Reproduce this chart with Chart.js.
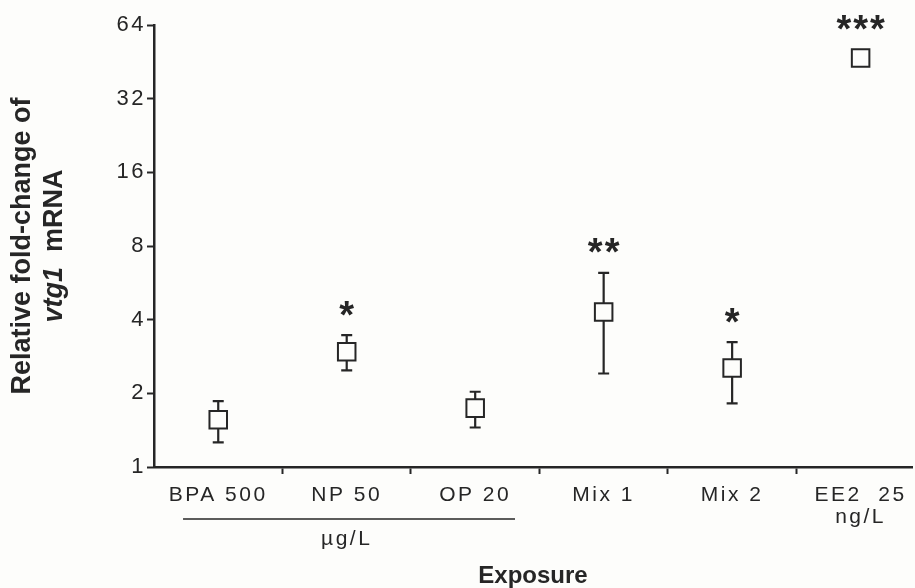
<!DOCTYPE html>
<html>
<head>
<meta charset="utf-8">
<script src="https://cdn.jsdelivr.net/npm/chart.js@4.4.1/dist/chart.umd.min.js"></script>
<style>
  html, body { margin: 0; padding: 0; background: #fdfdfb; }
  #wrap { width: 915px; height: 588px; position: relative; }
</style>
</head>
<body>
<div id="wrap"><canvas id="c"></canvas></div>
<script>
// ---- data ----
const categories = ['BPA 500', 'NP 50', 'OP 20', 'Mix 1', 'Mix 2', 'EE2  25'];
const subLabels  = ['', 'µg/L', '', '', '', 'ng/L'];
const foldChange = [1.56, 2.96, 1.74, 4.30, 2.54, 46.9];
const errHigh    = [1.86, 3.46, 2.03, 6.21, 3.24, null];
const errLow     = [1.26, 2.48, 1.45, 2.41, 1.82, null];
const stars      = ['', '*', '', '**', '*', '***'];
const yTicks     = [1, 2, 4, 8, 16, 32, 64];
const groupBracket = { from: 0.726, to: 3.31 }; // "µg/L" group underline, in category units

const FONT = '"Liberation Sans", Arial, Helvetica, sans-serif';
const INK = '#262626';
const BG = '#fdfdfb';

const xLabels = categories.map((c, i) => {
  if (i === 1) return [c, '', subLabels[i]];
  if (subLabels[i]) return [c, subLabels[i]];
  return c;
});

const points = categories.map((c, i) => ({ x: i + 1, y: foldChange[i] }));

const errorBars = {
  id: 'errorBars',
  beforeDatasetsDraw(chart) {
    const ctx = chart.ctx, xs = chart.scales.x, ys = chart.scales.y;
    ctx.save();
    ctx.strokeStyle = INK;
    ctx.lineWidth = 2.2;
    const cap = 5.5;
    for (let i = 0; i < categories.length; i++) {
      if (errHigh[i] == null || errLow[i] == null) continue;
      const x = xs.getPixelForValue(i + 1);
      const yh = ys.getPixelForValue(errHigh[i]);
      const yl = ys.getPixelForValue(errLow[i]);
      ctx.beginPath();
      ctx.moveTo(x, yh); ctx.lineTo(x, yl);
      ctx.moveTo(x - cap, yh); ctx.lineTo(x + cap, yh);
      ctx.moveTo(x - cap, yl); ctx.lineTo(x + cap, yl);
      ctx.stroke();
    }
    ctx.restore();
  }
};

const annotations = {
  id: 'annotations',
  beforeDraw(chart) {
    chart.ctx.letterSpacing = '2.5px';
  },
  afterDatasetsDraw(chart) {
    const ctx = chart.ctx, xs = chart.scales.x, ys = chart.scales.y;
    const meta = chart.getDatasetMeta(0);
    ctx.save();
    ctx.letterSpacing = '2px';
    // significance stars
    ctx.fillStyle = INK;
    ctx.font = 'bold 38px ' + FONT;
    ctx.textAlign = 'center';
    ctx.textBaseline = 'alphabetic';
    for (let i = 0; i < categories.length; i++) {
      if (!stars[i]) continue;
      const x = xs.getPixelForValue(i + 1);
      let top;
      if (errHigh[i] != null) top = ys.getPixelForValue(errHigh[i]);
      else top = ys.getPixelForValue(foldChange[i]) - meta.data[i].options.radius * Math.SQRT1_2;
      const target = top - 27;
      const m = ctx.measureText(stars[i]);
      const y = target + (m.actualBoundingBoxAscent - m.actualBoundingBoxDescent) / 2;
      ctx.fillText(stars[i], x + 1, y);
    }
    // group underline for µg/L
    ctx.strokeStyle = INK;
    ctx.lineWidth = 1.6;
    const yLine = chart.chartArea.bottom + 52;
    ctx.beginPath();
    ctx.moveTo(xs.getPixelForValue(groupBracket.from), yLine);
    ctx.lineTo(xs.getPixelForValue(groupBracket.to), yLine);
    ctx.stroke();

    // x-axis title
    ctx.letterSpacing = '0px';
    ctx.font = 'bold 24px ' + FONT;
    ctx.textAlign = 'center';
    ctx.textBaseline = 'alphabetic';
    ctx.fillText('Exposure', (chart.chartArea.left + chart.chartArea.right) / 2, chart.chartArea.bottom + 116);

    // y-axis title (two lines, "vtg1" italic)
    const cy = (chart.chartArea.top + chart.chartArea.bottom) / 2;
    ctx.translate(0, cy);
    ctx.rotate(-Math.PI / 2);
    ctx.textBaseline = 'middle';
    ctx.textAlign = 'center';
    ctx.font = 'bold 27px ' + FONT;
    ctx.fillText('Relative fold-change of', 0, 23);
    const part1 = 'vtg1', part2 = '  mRNA';
    ctx.font = 'italic bold 27px ' + FONT;
    const w1 = ctx.measureText(part1).width;
    ctx.font = 'bold 27px ' + FONT;
    const w2 = ctx.measureText(part2).width;
    const start = -(w1 + w2) / 2;
    ctx.textAlign = 'left';
    ctx.font = 'italic bold 27px ' + FONT;
    ctx.fillText(part1, start, 55);
    ctx.font = 'bold 27px ' + FONT;
    ctx.fillText(part2, start + w1, 55);
    ctx.restore();
  },
  afterDraw(chart) {
    chart.ctx.letterSpacing = '0px';
  }
};

const bgPlugin = {
  id: 'bg',
  beforeDraw(chart) {
    const ctx = chart.ctx;
    ctx.save();
    ctx.fillStyle = BG;
    ctx.fillRect(0, 0, chart.width, chart.height);
    ctx.restore();
  }
};

new Chart(document.getElementById('c'), {
  type: 'scatter',
  data: {
    datasets: [{
      data: points,
      pointStyle: 'rect',
      pointRadius: 12.4,
      pointHoverRadius: 12.4,
      pointBorderWidth: 2,
      pointBackgroundColor: BG,
      pointBorderColor: INK,
      showLine: false
    }]
  },
  options: {
    responsive: true,
    maintainAspectRatio: false,
    animation: false,
    devicePixelRatio: 1,
    layout: { autoPadding: false, padding: { left: 0, top: 25, right: 3, bottom: 0 } },
    plugins: {
      legend: { display: false },
      tooltip: { enabled: false },
      title: { display: false }
    },
    scales: {
      x: {
        type: 'linear',
        position: 'bottom',
        min: 0.5,
        max: 6.4,
        afterBuildTicks(scale) {
          const t = [];
          for (let i = 0; i < categories.length; i++) {
            t.push({ value: i + 1 });
            if (i < categories.length - 1) t.push({ value: i + 1.5 });
          }
          scale.ticks = t;
        },
        afterFit(scale) {
          scale.height = 121;
          scale.paddingLeft = 0;
          scale.paddingRight = 0;
        },
        ticks: {
          autoSkip: false,
          maxRotation: 0,
          minRotation: 0,
          padding: 10,
          color: INK,
          font: { family: FONT, size: 21, lineHeight: 1.05 },
          callback(v) {
            return Number.isInteger(v) ? xLabels[v - 1] : '';
          }
        },
        grid: {
          drawOnChartArea: false,
          drawTicks: true,
          tickLength: 7,
          tickWidth: 2,
          tickColor(ctx) {
            return ctx.tick && !Number.isInteger(ctx.tick.value) ? INK : 'rgba(0,0,0,0)';
          }
        },
        border: { display: true, color: INK, width: 2.5 },
        title: { display: false, text: 'Exposure' }
      },
      y: {
        type: 'logarithmic',
        position: 'left',
        min: 1,
        max: 64,
        afterBuildTicks(scale) {
          scale.ticks = yTicks.map(v => ({ value: v }));
        },
        afterFit(scale) {
          scale.width = 154;
          scale.paddingTop = 0;
          scale.paddingBottom = 0;
        },
        ticks: {
          padding: 1,
          color: INK,
          font: { family: FONT, size: 22 },
          callback(v) { return String(v); }
        },
        grid: {
          drawOnChartArea: false,
          drawTicks: true,
          tickLength: 7,
          tickWidth: 2,
          tickColor: INK
        },
        border: { display: true, color: INK, width: 2.5 }
      }
    }
  },
  plugins: [bgPlugin, errorBars, annotations]
});
</script>
</body>
</html>
